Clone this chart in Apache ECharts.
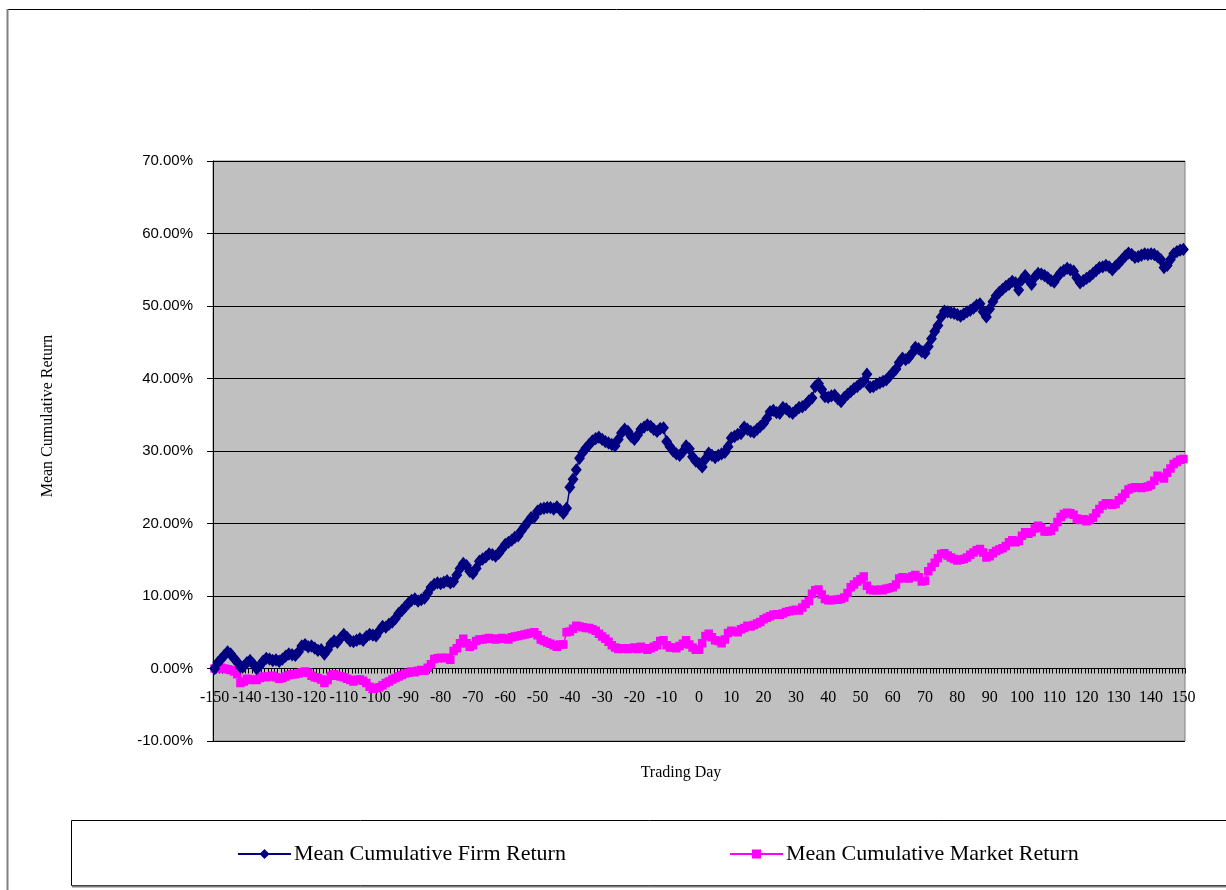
<!DOCTYPE html>
<html>
<head>
<meta charset="utf-8">
<script src="https://cdn.jsdelivr.net/npm/echarts@6/dist/echarts.min.js"></script>
<style>
  html, body { margin: 0; padding: 0; background: #fff; }
  #chart { width: 1226px; height: 890px; }
</style>
</head>
<body>
<div id="chart"></div>
<script>
// trading days -150 .. 150
var days = [];
for (var d = -150; d <= 150; d++) days.push(String(d));

// mean cumulative firm return (%), one value per day
var firmReturn = [
  0, 0.8, 1.3, 1.8, 2.3, 2.0, 1.4, 0.9, 0.2, 0.3,
  0.8, 1.1, 0.6, 0.0, 0.4, 1.0, 1.4, 1.3, 1.1, 1.2,
  1.0, 1.3, 1.7, 2.0, 1.9, 1.8, 2.3, 3.1, 3.3, 3.0,
  3.1, 2.8, 2.5, 2.6, 2.0, 2.6, 3.4, 3.8, 3.6, 4.2,
  4.7, 4.3, 3.8, 3.7, 3.9, 4.1, 3.9, 4.4, 4.7, 4.6,
  4.5, 5.2, 5.8, 5.7, 6.1, 6.4, 6.9, 7.6, 8.0, 8.5,
  9.0, 9.4, 9.6, 9.3, 9.5, 9.7, 10.4, 11.2, 11.6, 11.8,
  11.7, 11.9, 12.1, 11.8, 12.0, 12.9, 13.8, 14.5, 14.2, 13.4,
  13.1, 13.8, 14.8, 15.1, 15.4, 15.8, 15.7, 15.5, 15.9, 16.5,
  17.1, 17.4, 17.7, 18.1, 18.3, 19.0, 19.6, 20.2, 20.8, 20.9,
  21.7, 22.0, 22.1, 22.2, 22.2, 22.0, 22.3, 21.9, 21.4, 22.1,
  25.0, 26.1, 27.4, 29.0, 29.8, 30.4, 30.9, 31.4, 31.7, 31.9,
  31.6, 31.3, 31.1, 30.9, 30.7, 31.6, 32.5, 33.0, 32.7, 32.0,
  31.6, 32.2, 33.0, 33.3, 33.6, 33.4, 33.0, 32.7, 33.1, 33.2,
  31.3, 30.6, 30.0, 29.6, 29.4, 29.9, 30.7, 30.3, 29.2, 28.6,
  28.3, 27.8, 28.9, 29.7, 29.4, 29.1, 29.4, 29.6, 29.8, 30.6,
  31.8, 32.0, 32.3, 32.4, 33.3, 33.0, 32.7, 32.6, 33.0, 33.4,
  33.8, 34.5, 35.4, 35.6, 35.3, 35.2, 36.0, 35.8, 35.4, 35.2,
  35.6, 36.0, 36.1, 36.4, 36.9, 37.3, 38.9, 39.3, 38.5, 37.5,
  37.4, 37.6, 37.7, 37.2, 36.8, 37.4, 37.8, 38.2, 38.6, 38.9,
  39.3, 39.6, 40.6, 38.8, 38.9, 39.2, 39.4, 39.6, 39.8, 40.3,
  40.8, 41.3, 42.2, 42.8, 42.6, 42.9, 43.5, 44.3, 44.1, 43.7,
  43.5, 44.4, 45.5, 46.5, 47.3, 48.5, 49.3, 49.2, 49.1, 49.0,
  48.8, 48.6, 48.9, 49.2, 49.4, 49.7, 50.1, 50.3, 49.2, 48.5,
  49.6, 50.6, 51.4, 51.9, 52.3, 52.7, 53.0, 53.4, 53.2, 52.2,
  53.6, 54.2, 53.6, 53.0, 54.0, 54.5, 54.4, 54.2, 53.9, 53.5,
  53.3, 54.0, 54.6, 54.9, 55.2, 55.0, 54.8, 53.9, 53.2, 53.5,
  53.8, 54.1, 54.5, 54.9, 55.3, 55.4, 55.6, 55.4, 55.0, 55.5,
  55.9, 56.4, 56.9, 57.3, 57.1, 56.7, 56.8, 57.0, 57.2, 57.1,
  57.2, 57.1, 56.8, 56.4, 55.3, 55.6, 56.4, 57.2, 57.5, 57.7,
  57.8
];

// mean cumulative market return (%)
var marketReturn = [
  0, 0, 0.1, 0, -0.1, -0.2, -0.4, -0.8, -2.0, -1.8,
  -1.4, -1.6, -1.5, -1.6, -1.3, -1.1, -1.2, -1.1, -1.0, -1.2,
  -1.4, -1.3, -1.1, -0.9, -0.8, -0.8, -0.7, -0.5, -0.4, -0.6,
  -1.0, -1.2, -1.3, -1.5, -2.0, -1.6, -1.0, -0.8, -1.0, -1.1,
  -1.2, -1.4, -1.6, -1.8, -1.6, -1.5, -1.7, -2.0, -2.5, -2.8,
  -2.7, -2.6, -2.3, -2.0, -1.8, -1.5, -1.3, -1.1, -0.9, -0.7,
  -0.6, -0.4, -0.5, -0.3, -0.2, -0.3, 0.1, 0.6, 1.3, 1.4,
  1.5, 1.4, 1.5, 1.2, 2.4, 2.8, 3.5, 4.1, 3.5, 3.0,
  3.2, 3.8, 4.0, 4.0, 4.1, 4.2, 4.1, 4.0, 4.1, 4.2,
  4.1, 4.0, 4.3, 4.4, 4.5, 4.6, 4.7, 4.8, 4.9, 5.0,
  4.6, 4.0, 3.8, 3.6, 3.4, 3.2, 3.0, 3.3, 3.3, 5.0,
  5.1, 5.5, 5.9, 5.8, 5.7, 5.6, 5.6, 5.4, 5.2, 4.8,
  4.4, 4.1, 3.7, 3.2, 2.9, 2.7, 2.8, 2.8, 2.7, 2.8,
  2.9, 2.7, 3.0, 2.8, 2.6, 2.8, 3.0, 3.2, 3.8, 3.9,
  3.2, 2.9, 2.9, 2.8, 3.1, 3.4, 3.9, 3.3, 2.9, 2.6,
  2.6, 3.5, 4.5, 4.8, 4.3, 3.9, 3.8, 3.5, 4.0, 4.9,
  5.2, 5.1, 5.0, 5.4, 5.6, 5.9, 5.8, 6.0, 6.2, 6.4,
  6.8, 7.0, 7.2, 7.4, 7.5, 7.4, 7.6, 7.8, 7.9, 8.0,
  8.1, 8.0, 8.4, 8.9, 9.3, 10.3, 10.8, 10.9, 10.2, 9.6,
  9.4, 9.4, 9.5, 9.5, 9.6, 9.8, 10.4, 11.2, 11.6, 12.0,
  12.3, 12.7, 11.4, 10.9, 10.8, 10.8, 10.9, 10.8, 11.0, 11.1,
  11.2, 11.6, 12.4, 12.6, 12.5, 12.4, 12.7, 12.9, 12.6, 12.0,
  12.1, 13.4, 14.0, 14.6, 15.2, 15.8, 15.9, 15.6, 15.3, 15.1,
  14.9, 15.0, 15.1, 15.3, 15.7, 16.0, 16.3, 16.5, 16.0, 15.3,
  15.5, 15.9, 16.2, 16.4, 16.6, 16.9, 17.4, 17.7, 17.4, 17.6,
  18.3, 18.8, 18.6, 18.8, 19.3, 19.7, 19.4, 18.9, 18.9, 19.0,
  19.5, 20.2, 20.9, 21.3, 21.5, 21.4, 21.2, 20.7, 20.5, 20.6,
  20.3, 20.5, 20.8, 21.4, 22.0, 22.5, 22.8, 22.8, 22.6, 22.7,
  23.2, 23.6, 24.1, 24.7, 24.9, 25.0, 25.0, 24.9, 25.0, 25.1,
  25.3, 25.9, 26.6, 26.4, 26.2, 27.0, 27.6, 28.2, 28.5, 28.8,
  28.9
];

var serif = '"Liberation Serif", "Times New Roman", serif';
var sans = '"Liberation Sans", Arial, sans-serif';

var myChart = echarts.init(document.getElementById('chart'));

var option = {
  animation: false,
  backgroundColor: '#ffffff',
  grid: {
    left: 213,
    top: 161,
    width: 972,
    height: 580,
    show: true,
    backgroundColor: '#c0c0c0',
    borderColor: '#808080',
    borderWidth: 1
  },
  // two legends, each placed on its own
  legend: [
    {
      data: ['Mean Cumulative Firm Return'],
      left: 237,
      top: 843,
      padding: 0,
      itemWidth: 53,
      itemHeight: 9,
      itemGap: 0,
      textStyle: { fontFamily: serif, fontSize: 22, color: '#000', padding: [0, 0, 0, -2] }
    },
    {
      data: ['Mean Cumulative Market Return'],
      left: 729,
      top: 843,
      padding: 0,
      itemWidth: 53,
      itemHeight: 9,
      itemGap: 0,
      textStyle: { fontFamily: serif, fontSize: 22, color: '#000', padding: [0, 0, 0, -2] }
    }
  ],
  xAxis: {
    type: 'category',
    data: days,
    boundaryGap: true,
    axisLine: { onZero: true, lineStyle: { color: '#000', width: 1 } },
    axisTick: { show: true, interval: 0, length: 5, lineStyle: { color: '#000' } },
    axisLabel: {
      interval: 9,
      margin: -51,
      fontFamily: serif,
      fontSize: 16,
      color: '#000'
    },
    splitLine: { show: false }
  },
  yAxis: {
    type: 'value',
    min: -10,
    max: 70,
    interval: 10,
    axisLine: { show: true, lineStyle: { color: '#000', width: 1 } },
    axisTick: { show: true, length: 6, lineStyle: { color: '#000' } },
    axisLabel: {
      margin: 20,
      fontFamily: sans,
      fontSize: 15,
      color: '#000',
      formatter: function (v) { return v.toFixed(2) + '%'; }
    },
    splitLine: { show: true, lineStyle: { color: '#000', width: 1 } }
  },
  graphic: [
    // outer chart frame
    { type: 'line', shape: { x1: 7, y1: 9.5, x2: 1226, y2: 9.5 }, style: { stroke: '#000', lineWidth: 1 } },
    { type: 'line', shape: { x1: 7.5, y1: 9, x2: 7.5, y2: 890 }, style: { stroke: '#808080', lineWidth: 2 } },
    // legend box
    { type: 'rect', shape: { x: 71.5, y: 820.5, width: 1200, height: 65 }, style: { fill: '#fff', stroke: '#000', lineWidth: 1 }, z: -1 },
    { type: 'line', shape: { x1: 72, y1: 886.5, x2: 1226, y2: 886.5 }, style: { stroke: '#808080', lineWidth: 2 } },
    // axis titles
    {
      type: 'text', x: 48, y: 416, rotation: Math.PI / 2,
      style: { text: 'Mean Cumulative Return', font: '16px ' + serif, fill: '#000', align: 'center', verticalAlign: 'middle' }
    },
    {
      type: 'text', x: 681, y: 773,
      style: { text: 'Trading Day', font: '16px ' + serif, fill: '#000', align: 'center', verticalAlign: 'middle' }
    }
  ],
  series: [
    {
      name: 'Mean Cumulative Firm Return',
      type: 'line',
      data: firmReturn,
      symbol: 'diamond',
      symbolSize: [9, 11],
      showAllSymbol: true,
      itemStyle: { color: '#000080', borderColor: '#000080', borderWidth: 1.5 },
      lineStyle: { color: '#000080', width: 1.5 },
      z: 3
    },
    {
      name: 'Mean Cumulative Market Return',
      type: 'line',
      data: marketReturn,
      symbol: 'rect',
      symbolSize: 7,
      showAllSymbol: true,
      itemStyle: { color: '#ff00ff', borderColor: '#ff00ff', borderWidth: 1.5 },
      lineStyle: { color: '#ff00ff', width: 1.5 },
      z: 2
    }
  ]
};
myChart.setOption(option);
</script>
</body>
</html>
